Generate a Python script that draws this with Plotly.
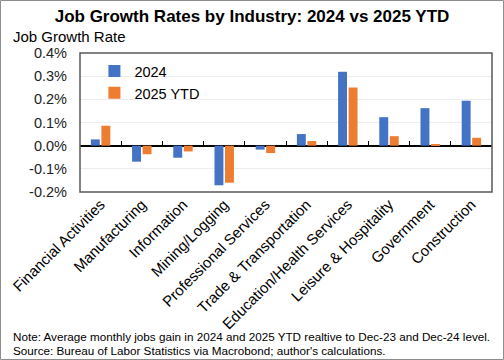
import plotly.graph_objects as go

categories = ["Financial Activities", "Manufacturing", "Information", "Mining/Logging",
              "Professional Services", "Trade & Transportation", "Education/Health Services",
              "Leisure & Hospitality", "Government", "Construction"]
growth_2024 = [0.027, -0.069, -0.052, -0.171, -0.017, 0.050, 0.319, 0.123, 0.162, 0.194]
growth_2025 = [0.086, -0.037, -0.025, -0.160, -0.032, 0.020, 0.251, 0.041, 0.005, 0.034]
y_ticks = [-0.2, -0.1, 0.0, 0.1, 0.2, 0.3, 0.4]
y_tick_labels = ["-0.2%", "-0.1%", "0.0%", "0.1%", "0.2%", "0.3%", "0.4%"]

W, H = 504, 360
ML, MR, MT, MB = 80, 12, 53, 168
FONT = "Liberation Sans, Arial, sans-serif"

fig = go.Figure()
fig.add_trace(go.Bar(x=categories, y=growth_2024, name="2024", marker_color="#4472C4",
                     marker_line_width=0))
fig.add_trace(go.Bar(x=categories, y=growth_2025, name="2025 YTD", marker_color="#ED7D31",
                     marker_line_width=0))

# invisible trace on overlay axis for tick marks on zero line
n = len(categories)
fig.add_trace(go.Scatter(x=[-0.5, n - 0.5], y=[0, 0], xaxis="x2", mode="lines",
                         line=dict(width=0), showlegend=False, hoverinfo="skip"))

pw = (W - ML - MR)
ph = (H - MT - MB)

fig.update_layout(
    width=W, height=H,
    margin=dict(l=ML, r=MR, t=MT, b=MB),
    paper_bgcolor="white", plot_bgcolor="white",
    font=dict(family=FONT, size=14.5, color="#000000"),
    barmode="group", bargap=0.49, bargroupgap=0.15,
    title=dict(text="<b>Job Growth Rates by Industry: 2024 vs 2025 YTD</b>",
               x=0.5, xanchor="center", y=1 - 16 / H, yanchor="middle",
               font=dict(size=17, family=FONT, color="#000000")),
    showlegend=True,
    legend=dict(x=0.035, y=0.985, xanchor="left", yanchor="top",
                bgcolor="rgba(0,0,0,0)", font=dict(size=14.5, color="#000000"),
                itemwidth=30),
    xaxis=dict(tickangle=-45, showgrid=False, showline=False, ticks="",
               tickfont=dict(size=15, color="#000000"), automargin=False),
    xaxis2=dict(overlaying="x", anchor="free", position=1 / 3, range=[-0.5, n - 0.5],
                tickvals=[i + 0.5 for i in range(n - 1)], ticks="inside", ticklen=5,
                tickcolor="#000000", tickwidth=1, showticklabels=False, showgrid=False,
                showline=False, zeroline=False),
    yaxis=dict(range=[-0.2, 0.4], tickvals=y_ticks, ticktext=y_tick_labels,
               showgrid=True, gridcolor="#EDEDED", gridwidth=1,
               zeroline=True, zerolinecolor="#000000", zerolinewidth=1.5,
               showline=False, ticks="", tickfont=dict(size=14.5, color="#222222"),
               ticklabelstandoff=12, automargin=False),
    annotations=[
        dict(text="Job Growth Rate", xref="paper", yref="paper",
             x=-(ML - 11) / pw, y=1 + (MT - 36) / ph, xanchor="left", yanchor="middle",
             showarrow=False, font=dict(size=15, color="#000000")),
        dict(text="Note: Average monthly jobs gain in 2024 and 2025 YTD realtive to Dec-23 and Dec-24 level.",
             xref="paper", yref="paper", x=-(ML - 11) / pw, y=-(337 - MT - ph) / ph,
             xanchor="left", yanchor="middle", align="left", showarrow=False,
             font=dict(size=11.7, color="#000000")),
        dict(text="Source: Bureau of Labor Statistics via Macrobond; author's calculations.",
             xref="paper", yref="paper", x=-(ML - 11) / pw, y=-(350 - MT - ph) / ph,
             xanchor="left", yanchor="middle", align="left", showarrow=False,
             font=dict(size=11.7, color="#000000")),
    ],
    shapes=[
        dict(type="rect", xref="paper", yref="paper", x0=0, x1=1, y0=0, y1=1,
             line=dict(color="#595959", width=1.5), fillcolor="rgba(0,0,0,0)"),
        dict(type="rect", xref="paper", yref="paper",
             x0=-(ML - 0.5) / pw, x1=1 + (MR - 0.5) / pw,
             y0=-(MB - 0.5) / ph, y1=1 + (MT - 0.5) / ph,
             line=dict(color="#8C8C8C", width=1), fillcolor="rgba(0,0,0,0)"),
    ],
)

fig.write_html("out.html", config={"displayModeBar": False},
               post_script="document.body.style.margin='0';")
